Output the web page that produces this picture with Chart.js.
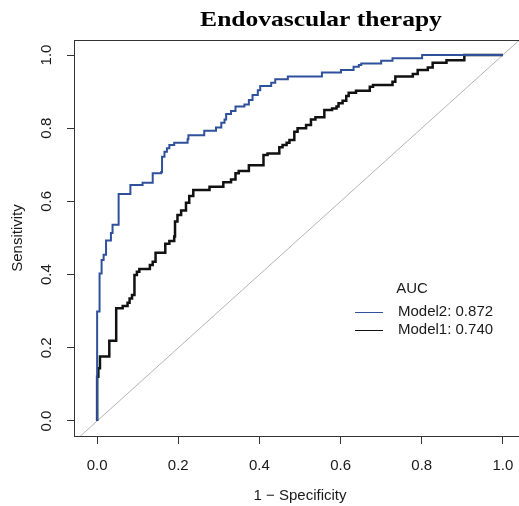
<!DOCTYPE html>
<html>
<head>
<meta charset="utf-8">
<script src="https://cdn.jsdelivr.net/npm/chart.js@4.4.1/dist/chart.umd.min.js"></script>
<style>
  html, body { margin: 0; padding: 0; background: #fff; overflow: hidden; }
  canvas { display: block; }
</style>
</head>
<body>
<canvas id="roc" width="540" height="506"></canvas>
<script>
// chart text
const chartTitle = 'Endovascular therapy';
const xTitle = '1 \u2212 Specificity';
const yTitle = 'Sensitivity';
const legendTitle = 'AUC';
const seriesNames = ['Model2', 'Model1'];
const aucValues = [0.872, 0.740];

// tick labels
const xTicks = [0, 0.2, 0.4, 0.6, 0.8, 1.0];
const yTicks = [0, 0.2, 0.4, 0.6, 0.8, 1.0];

// ROC corners (1 - specificity, sensitivity)
const model2Fpr = [0, 0, 0.006, 0.011, 0.016, 0.022, 0.034, 0.038, 0.053, 0.082, 0.112, 0.137, 0.158, 0.160,
  0.166, 0.172, 0.178, 0.190, 0.223, 0.225, 0.264, 0.293, 0.306, 0.314, 0.318, 0.330, 0.341, 0.363, 0.374,
  0.383, 0.396, 0.402, 0.429, 0.439, 0.470, 0.554, 0.601, 0.632, 0.645, 0.651, 0.700, 0.728, 0.801, 1.0];
const model2Tpr = [0, 0.299, 0.403, 0.440, 0.454, 0.493, 0.514, 0.536, 0.620, 0.645, 0.651, 0.677, 0.680, 0.722,
  0.736, 0.745, 0.754, 0.760, 0.770, 0.781, 0.793, 0.802, 0.815, 0.824, 0.839, 0.847, 0.859, 0.865, 0.877,
  0.891, 0.904, 0.915, 0.924, 0.934, 0.941, 0.952, 0.959, 0.968, 0.973, 0.977, 0.984, 0.991, 1.0, 1.0];

const model1Fpr = [0, 0, 0.003, 0.007, 0.030, 0.047, 0.063, 0.075, 0.080, 0.086, 0.092, 0.098, 0.104, 0.130,
  0.137, 0.144, 0.168, 0.178, 0.190, 0.192, 0.198, 0.207, 0.219, 0.227, 0.237, 0.277, 0.311, 0.330, 0.341,
  0.349, 0.374, 0.410, 0.420, 0.449, 0.457, 0.467, 0.474, 0.486, 0.494, 0.515, 0.527, 0.538, 0.560, 0.579,
  0.590, 0.595, 0.605, 0.614, 0.620, 0.638, 0.672, 0.680, 0.728, 0.735, 0.778, 0.790, 0.815, 0.827, 0.861,
  0.905, 1.0];
const model1Tpr = [0, 0.121, 0.144, 0.176, 0.219, 0.308, 0.314, 0.323, 0.335, 0.344, 0.399, 0.408, 0.415, 0.426,
  0.435, 0.460, 0.484, 0.492, 0.504, 0.545, 0.563, 0.575, 0.596, 0.615, 0.631, 0.640, 0.652, 0.660, 0.677,
  0.683, 0.699, 0.727, 0.731, 0.748, 0.754, 0.760, 0.768, 0.790, 0.800, 0.809, 0.824, 0.830, 0.850, 0.854,
  0.859, 0.868, 0.875, 0.888, 0.897, 0.902, 0.913, 0.918, 0.927, 0.941, 0.948, 0.959, 0.966, 0.979, 0.986,
  1.0, 1.0];

// chance line
const chanceLine = [-0.2, 1.3];

const toPoints = (xs, ys) => xs.map((x, i) => ({ x: x, y: ys[i] }));
const sansFont = '"Liberation Sans", Arial, sans-serif';
const inkColor = '#1a1a1a';

// draws the plot box, the main title, the rotated y tick labels and the AUC legend
const decorations = {
  id: 'decorations',
  afterDatasetsDraw(chart) {
    const { ctx, chartArea } = chart;
    ctx.save();
    ctx.strokeStyle = '#333';
    ctx.lineWidth = 1;
    ctx.strokeRect(chartArea.left + 0.5, chartArea.top + 0.5,
      chartArea.right - chartArea.left, chartArea.bottom - chartArea.top);

    // title (the source image is a little stretched sideways)
    ctx.save();
    ctx.fillStyle = '#000';
    ctx.font = 'bold 22px "Liberation Serif", "Times New Roman", serif';
    ctx.textAlign = 'center';
    ctx.textBaseline = 'middle';
    ctx.translate(321, 20);
    ctx.scale(1.16, 1);
    ctx.fillText(chartTitle, 0, 0);
    ctx.restore();

    // y tick labels, vertical like R
    const yScale = chart.scales.y;
    ctx.fillStyle = inkColor;
    ctx.font = '15px ' + sansFont;
    ctx.textAlign = 'center';
    ctx.textBaseline = 'middle';
    yScale.ticks.forEach(t => {
      const py = yScale.getPixelForValue(t.value);
      ctx.save();
      ctx.translate(47, py);
      ctx.rotate(-Math.PI / 2);
      ctx.fillText(t.value.toFixed(1), 0, 0);
      ctx.restore();
    });

    // legend
    ctx.fillText(legendTitle, 412, 289);
    ctx.textAlign = 'left';
    seriesNames.forEach((name, i) => {
      const ly = 312 + i * 18;
      ctx.strokeStyle = chart.data.datasets[i].borderColor;
      ctx.lineWidth = 1;
      ctx.beginPath();
      ctx.moveTo(355, ly + 0.5);
      ctx.lineTo(383, ly + 0.5);
      ctx.stroke();
      ctx.fillText(name + ': ' + aucValues[i].toFixed(3), 398, ly);
    });
    ctx.restore();
  }
};

const axisGrid = { display: true, drawOnChartArea: false, drawTicks: true, tickLength: 8, color: '#333', lineWidth: 1 };

new Chart(document.getElementById('roc'), {
  type: 'line',
  data: {
    datasets: [
      {
        label: seriesNames[0],
        data: toPoints(model2Fpr, model2Tpr),
        borderColor: '#2f519b',
        borderWidth: 2,
        stepped: 'before',
        pointRadius: 0,
        fill: false,
      },
      {
        label: seriesNames[1],
        data: toPoints(model1Fpr, model1Tpr),
        borderColor: '#111111',
        borderWidth: 2.5,
        stepped: 'before',
        pointRadius: 0,
        fill: false,
      },
      {
        label: 'chance',
        data: toPoints(chanceLine, chanceLine),
        borderColor: '#b4b4b4',
        borderWidth: 1,
        pointRadius: 0,
        fill: false,
      },
    ],
  },
  options: {
    responsive: false,
    animation: false,
    layout: { padding: { left: 0, right: 14, top: 40, bottom: 0 } },
    plugins: {
      legend: { display: false },
      title: { display: false },
      tooltip: { enabled: false },
    },
    scales: {
      x: {
        type: 'linear',
        min: -0.057,
        max: 1.057,
        afterBuildTicks: (scale) => { scale.ticks = xTicks.map(v => ({ value: v })); },
        afterFit: (scale) => { scale.height = 70; },
        ticks: {
          autoSkip: false,
          maxRotation: 0,
          padding: 13,
          color: inkColor,
          font: { family: sansFont, size: 15 },
          callback: (value) => Number(value).toFixed(1),
        },
        grid: axisGrid,
        border: { display: true, color: '#333', width: 1 },
        title: {
          display: true,
          text: xTitle,
          color: inkColor,
          font: { family: sansFont, size: 15 },
          padding: { top: 0, bottom: 1 },
        },
      },
      y: {
        type: 'linear',
        min: -0.041,
        max: 1.041,
        afterBuildTicks: (scale) => { scale.ticks = yTicks.map(v => ({ value: v })); },
        afterFit: (scale) => { scale.width = 74; },
        ticks: { display: false },
        grid: { ...axisGrid, tickLength: 7 },
        border: { display: true, color: '#333', width: 1 },
        title: {
          display: true,
          text: yTitle,
          color: inkColor,
          font: { family: sansFont, size: 15 },
          padding: { top: 9, bottom: 0 },
        },
      },
    },
  },
  plugins: [decorations],
});
</script>
</body>
</html>
